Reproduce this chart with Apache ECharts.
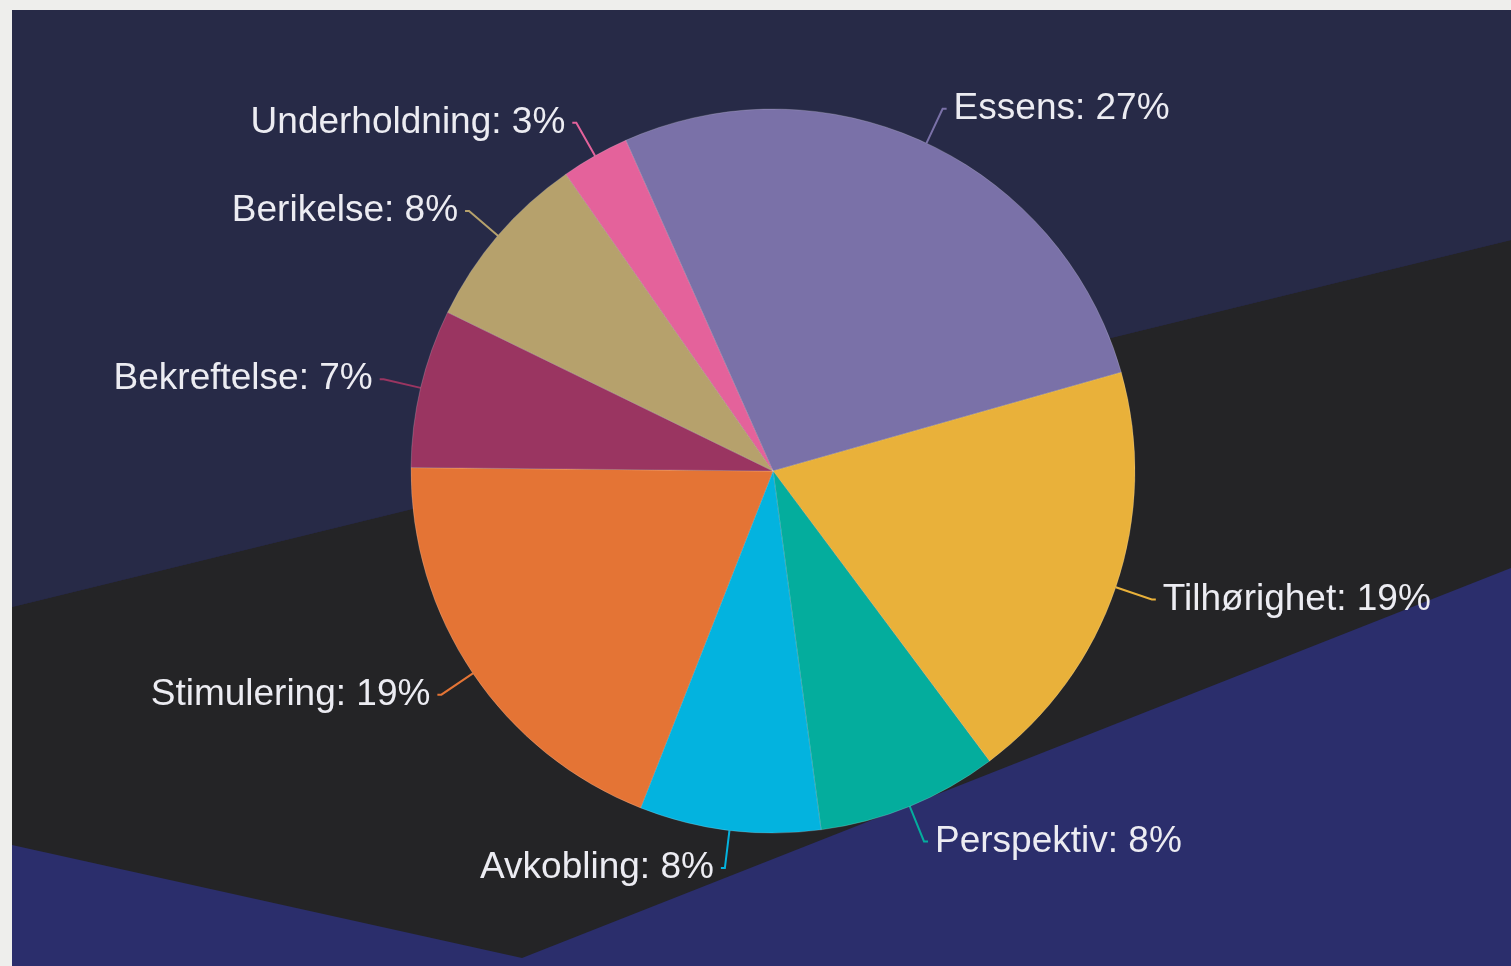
<!DOCTYPE html>
<html>
<head>
<meta charset="utf-8">
<title>Pie</title>
<script src="https://cdn.jsdelivr.net/npm/echarts@6/dist/echarts.min.js"></script>
<style>
  html, body { margin: 0; padding: 0; background: #eeeeec; }
  #main { width: 1511px; height: 966px; }
</style>
</head>
<body>
<div id="main"></div>
<script>
// values as printed on the slices (percent)
const categories = ['Essens', 'Tilhørighet', 'Perspektiv', 'Avkobling', 'Stimulering', 'Bekreftelse', 'Berikelse', 'Underholdning'];
const shares = [27, 19, 8, 8, 19, 7, 8, 3];
const palette = ['#7a71a8', '#e9b13a', '#04ad9d', '#03b3df', '#e47435', '#9a3561', '#b6a16c', '#e4629b'];

const chart = echarts.init(document.getElementById('main'));

// decorative backdrop: navy top, dark diagonal band, blue bottom
const backdrop = [
  {
    type: 'rect',
    shape: { x: 12, y: 10, width: 1499, height: 956 },
    style: { fill: '#272a47' },
    silent: true
  },
  {
    type: 'polygon',
    shape: { points: [[12, 607], [1511, 240], [1511, 966], [12, 966]] },
    style: { fill: '#2b2e6c' },
    silent: true
  },
  {
    type: 'polygon',
    shape: { points: [[12, 607], [1511, 240], [1511, 568], [522, 958], [12, 845]] },
    style: { fill: '#242426' },
    silent: true
  }
];

const option = {
  backgroundColor: '#eeeeec',
  animation: false,
  graphic: { elements: backdrop },
  series: [
    {
      type: 'pie',
      center: [773, 471],
      radius: 362,
      startAngle: 114,
      clockwise: true,
      avoidLabelOverlap: false,
      data: categories.map((name, i) => ({
        name: name,
        value: shares[i],
        itemStyle: { color: palette[i] }
      })),
      itemStyle: {
        borderColor: 'rgba(255,255,255,0.18)',
        borderWidth: 1
      },
      label: {
        show: true,
        position: 'outside',
        formatter: '{b}: {c}%',
        color: '#ececf2',
        fontFamily: 'Liberation Sans, Arial, sans-serif',
        fontSize: 37,
        distanceToLabelLine: 7
      },
      labelLine: {
        show: true,
        length: 38,
        length2: 4,
        lineStyle: { width: 2 }
      },
      emphasis: { disabled: true }
    }
  ]
};

chart.setOption(option);
</script>
</body>
</html>
